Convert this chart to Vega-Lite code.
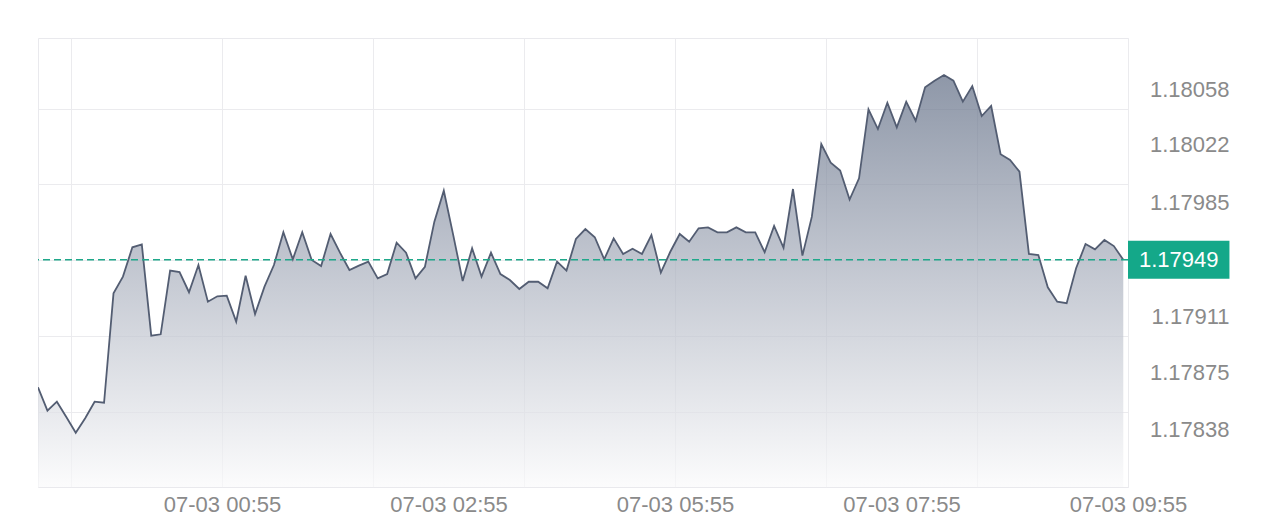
{
  "$schema": "https://vega.github.io/schema/vega-lite/v6.json",
  "width": 1090,
  "height": 449,
  "autosize": "none",
  "padding": {"left": 38, "top": 38, "right": 152, "bottom": 42},
  "background": "white",
  "view": {"stroke": "#e9e9ed", "strokeWidth": 1},
  "config": {
    "font": "Liberation Sans"
  },
  "datasets": {
    "prices": [
      {"i": 0, "price": 1.178665}, {"i": 1, "price": 1.178514}, {"i": 2, "price": 1.178572}, {"i": 3, "price": 1.178473},
      {"i": 4, "price": 1.178371}, {"i": 5, "price": 1.178465}, {"i": 6, "price": 1.178572}, {"i": 7, "price": 1.178565},
      {"i": 8, "price": 1.179273}, {"i": 9, "price": 1.179381}, {"i": 10, "price": 1.179571}, {"i": 11, "price": 1.17959},
      {"i": 12, "price": 1.178999}, {"i": 13, "price": 1.179008}, {"i": 14, "price": 1.17942}, {"i": 15, "price": 1.179411},
      {"i": 16, "price": 1.17928}, {"i": 17, "price": 1.179456}, {"i": 18, "price": 1.179219}, {"i": 19, "price": 1.179254},
      {"i": 20, "price": 1.179258}, {"i": 21, "price": 1.17909}, {"i": 22, "price": 1.179387}, {"i": 23, "price": 1.179139},
      {"i": 24, "price": 1.179316}, {"i": 25, "price": 1.179456}, {"i": 26, "price": 1.179668}, {"i": 27, "price": 1.179493},
      {"i": 28, "price": 1.179668}, {"i": 29, "price": 1.179489}, {"i": 30, "price": 1.17945}, {"i": 31, "price": 1.179657},
      {"i": 32, "price": 1.179536}, {"i": 33, "price": 1.179424}, {"i": 34, "price": 1.179452}, {"i": 35, "price": 1.179478},
      {"i": 36, "price": 1.17937}, {"i": 37, "price": 1.179398}, {"i": 38, "price": 1.179601}, {"i": 39, "price": 1.179536},
      {"i": 40, "price": 1.17937}, {"i": 41, "price": 1.179445}, {"i": 42, "price": 1.179737}, {"i": 43, "price": 1.179937},
      {"i": 44, "price": 1.17965}, {"i": 45, "price": 1.179353}, {"i": 46, "price": 1.179564}, {"i": 47, "price": 1.179381},
      {"i": 48, "price": 1.179536}, {"i": 49, "price": 1.179398}, {"i": 50, "price": 1.179359}, {"i": 51, "price": 1.179301},
      {"i": 52, "price": 1.179348}, {"i": 53, "price": 1.179348}, {"i": 54, "price": 1.179306}, {"i": 55, "price": 1.179478},
      {"i": 56, "price": 1.17942}, {"i": 57, "price": 1.179625}, {"i": 58, "price": 1.179689}, {"i": 59, "price": 1.179636},
      {"i": 60, "price": 1.179493}, {"i": 61, "price": 1.179629}, {"i": 62, "price": 1.179528}, {"i": 63, "price": 1.179562},
      {"i": 64, "price": 1.179528}, {"i": 65, "price": 1.17965}, {"i": 66, "price": 1.179407}, {"i": 67, "price": 1.179542},
      {"i": 68, "price": 1.179657}, {"i": 69, "price": 1.179607}, {"i": 70, "price": 1.179694}, {"i": 71, "price": 1.1797},
      {"i": 72, "price": 1.179668}, {"i": 73, "price": 1.179668}, {"i": 74, "price": 1.1797}, {"i": 75, "price": 1.179668},
      {"i": 76, "price": 1.179668}, {"i": 77, "price": 1.179539}, {"i": 78, "price": 1.179709}, {"i": 79, "price": 1.179568},
      {"i": 80, "price": 1.179948}, {"i": 81, "price": 1.179517}, {"i": 82, "price": 1.179769}, {"i": 83, "price": 1.180239},
      {"i": 84, "price": 1.180118}, {"i": 85, "price": 1.180068}, {"i": 86, "price": 1.17988}, {"i": 87, "price": 1.180017},
      {"i": 88, "price": 1.180464}, {"i": 89, "price": 1.180336}, {"i": 90, "price": 1.180506}, {"i": 91, "price": 1.180347},
      {"i": 92, "price": 1.180513}, {"i": 93, "price": 1.18039}, {"i": 94, "price": 1.180606}, {"i": 95, "price": 1.180649},
      {"i": 96, "price": 1.180686}, {"i": 97, "price": 1.180649}, {"i": 98, "price": 1.180513}, {"i": 99, "price": 1.180614},
      {"i": 100, "price": 1.18042}, {"i": 101, "price": 1.180485}, {"i": 102, "price": 1.180173}, {"i": 103, "price": 1.180136},
      {"i": 104, "price": 1.18006}, {"i": 105, "price": 1.179528}, {"i": 106, "price": 1.179521}, {"i": 107, "price": 1.179312},
      {"i": 108, "price": 1.179219}, {"i": 109, "price": 1.179209}, {"i": 110, "price": 1.179435}, {"i": 111, "price": 1.179592},
      {"i": 112, "price": 1.179558}, {"i": 113, "price": 1.179618}, {"i": 114, "price": 1.179579}, {"i": 115, "price": 1.17949}
    ],
    "last": [{"price": 1.17949}]
  },
  "layer": [
    {
      "data": {"name": "prices"},
      "mark": {
        "type": "area",
        "interpolate": "linear",
        "clip": true,
        "line": {"color": "#535d72", "strokeWidth": 1.8},
        "color": {
          "gradient": "linear",
          "x1": 0, "y1": 0, "x2": 0, "y2": 1,
          "stops": [
            {"offset": 0, "color": "#5e6b83"},
            {"offset": 0.5, "color": "#aeb4c1"},
            {"offset": 1, "color": "#fafafb"}
          ]
        }
      },
      "encoding": {
        "x": {
          "field": "i",
          "type": "quantitative",
          "scale": {"domain": [0, 115.5], "nice": false, "zero": false},
          "axis": {
            "title": null,
            "orient": "bottom",
            "values": [3.5, 19.5, 35.5, 43.5, 51.5, 67.5, 83.5, 91.5, 99.5, 115.5],
            "labelExpr": "datum.value == 19.5 ? '07-03 00:55' : datum.value == 43.5 ? '07-03 02:55' : datum.value == 67.5 ? '07-03 05:55' : datum.value == 91.5 ? '07-03 07:55' : datum.value == 115.5 ? '07-03 09:55' : ''",
            "grid": true,
            "gridColor": "#ebebee",
            "gridWidth": 1,
            "gridOpacity": {"condition": {"test": "datum.value == 43.5 || datum.value == 91.5", "value": 0}, "value": 1},
            "domain": false,
            "ticks": false,
            "labelFontSize": 22,
            "labelColor": "#8a8a8a",
            "labelPadding": 7,
            "labelFlush": false,
            "labelOverlap": false,
            "labelBound": false
          }
        },
        "y": {
          "field": "price",
          "type": "quantitative",
          "scale": {"domain": [1.17802, 1.180925], "nice": false, "zero": false},
          "axis": {
            "title": null,
            "orient": "right",
            "values": [1.178508, 1.17838, 1.17875, 1.178997, 1.17911, 1.179488, 1.17985, 1.179978, 1.18022, 1.180465, 1.18058],
            "labelExpr": "indexof([1.17838, 1.17875, 1.17911, 1.17985, 1.18022, 1.18058], datum.value) >= 0 ? format(datum.value, '.5f') : ''",
            "grid": true,
            "gridColor": "#ebebee",
            "gridWidth": 1,
            "gridOpacity": {"condition": {"test": "indexof([1.17838, 1.17875, 1.17911, 1.17985, 1.18022, 1.18058], datum.value) >= 0", "value": 0}, "value": 1},
            "domain": false,
            "ticks": false,
            "labelAlign": "right",
            "labelBaseline": "middle",
            "labelPadding": 101,
            "labelOffset": -2,
            "labelFontSize": 22,
            "labelColor": "#8a8a8a",
            "labelOverlap": false,
            "labelBound": false
          }
        },
        "y2": {"datum": 1.17802}
      }
    },
    {
      "data": {"name": "last"},
      "mark": {"type": "rule", "color": "#1fa88a", "strokeWidth": 1.6, "strokeDash": [7, 4]},
      "encoding": {
        "y": {"field": "price", "type": "quantitative"}
      }
    },
    {
      "data": {"name": "last"},
      "mark": {"type": "rule", "color": "#14a889", "strokeWidth": 38, "strokeCap": "butt", "clip": false},
      "encoding": {
        "x": {"datum": 115.5},
        "x2": {"datum": 126.25},
        "y": {"field": "price", "type": "quantitative"}
      }
    },
    {
      "data": {"name": "last"},
      "mark": {"type": "text", "color": "white", "fontSize": 22, "align": "center", "baseline": "middle", "clip": false},
      "encoding": {
        "x": {"datum": 120.87},
        "y": {"field": "price", "type": "quantitative"},
        "text": {"field": "price", "type": "quantitative", "format": ".5f"}
      }
    }
  ]
}
